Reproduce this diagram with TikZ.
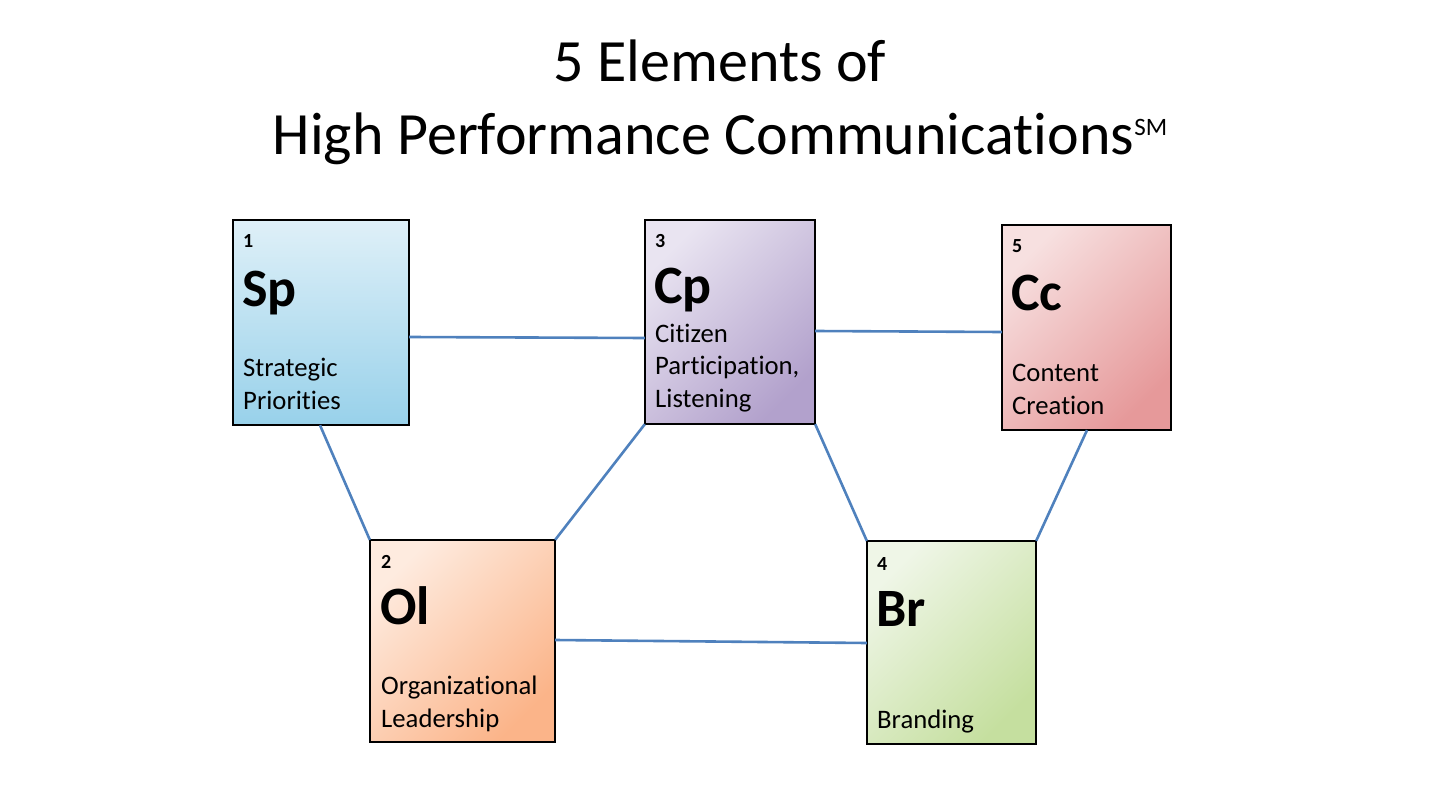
\documentclass[tikz,border=0pt]{standalone}
\usepackage{fontspec}
\setmainfont[Ligatures=NoCommon]{Carlito}
\definecolor{linkc}{HTML}{4F81BD}
\definecolor{spA}{HTML}{DFF0F8}\definecolor{spB}{HTML}{98D1EA}
\definecolor{cpA}{HTML}{E9E4F1}\definecolor{cpB}{HTML}{B2A1CC}
\definecolor{ccA}{HTML}{F7E0E0}\definecolor{ccB}{HTML}{E6999A}
\definecolor{olA}{HTML}{FEEBDF}\definecolor{olB}{HTML}{FBB489}
\definecolor{brA}{HTML}{EFF6E7}\definecolor{brB}{HTML}{C5DF9F}
\begin{document}
\begin{tikzpicture}[x=1pt,y=-1pt,
  elem/.style={draw=black,line width=2.8pt,inner sep=0pt,outer sep=0pt},
  link/.style={draw=linkc,line width=2.6pt},
  numtxt/.style={anchor=base west,inner sep=0pt,font=\fontsize{20}{20}\selectfont\bfseries},
  symtxt/.style={anchor=base west,inner sep=0pt,font=\fontsize{54}{54}\selectfont\bfseries},
  nametxt/.style={anchor=base west,inner sep=0pt,align=left,font=\fontsize{26.7}{32.5}\selectfont},
  titletxt/.style={inner sep=0pt,font=\fontsize{60}{60}\selectfont}]
\useasboundingbox (0,0) rectangle (1440,810);
% title
\node[titletxt,anchor=base] (t1) at (720,82) {5 Elements of};
\node[titletxt,anchor=base] (t2) at (720,155) {High Performance Communications\raisebox{19pt}{\fontsize{25}{25}\selectfont SM}};
% boxes
\path[elem,top color=spA,bottom color=spB] (233,220) rectangle (409,425);
\node[inner sep=0pt,minimum width=176pt,minimum height=205pt] (sp) at (321,322.5) {};
\path[elem,top color=cpA,bottom color=cpB,shading angle=45] (645,220) rectangle (815,424);
\node[inner sep=0pt,minimum width=170pt,minimum height=204pt] (cp) at (730,322) {};
\path[elem,top color=ccA,bottom color=ccB,shading angle=45] (1002,225) rectangle (1171,430);
\node[inner sep=0pt,minimum width=169pt,minimum height=205pt] (cc) at (1086.5,327.5) {};
\path[elem,top color=olA,bottom color=olB,shading angle=45] (370,540) rectangle (555,742);
\node[inner sep=0pt,minimum width=185pt,minimum height=202pt] (ol) at (462.5,641) {};
\path[elem,top color=brA,bottom color=brB,shading angle=45] (867,541) rectangle (1036,744);
\node[inner sep=0pt,minimum width=169pt,minimum height=203pt] (br) at (951.5,642.5) {};
% texts
\node[numtxt] (n1) at (243,248) {1};
\node[symtxt] (s1) at (242,306) {Sp};
\node[nametxt] (l1) at (243,409) {Strategic\\Priorities};
\node[numtxt] (n3) at (655,248) {3};
\node[symtxt] (s3) at (654,304) {Cp};
\node[nametxt] (l3) at (655,407) {Citizen\\Participation,\\Listening};
\node[numtxt] (n5) at (1012,253) {5};
\node[symtxt] (s5) at (1011,311) {Cc};
\node[nametxt] (l5) at (1012,414) {Content\\Creation};
\node[numtxt] (n2) at (381,568) {2};
\node[symtxt] (s2) at (380,624) {Ol};
\node[nametxt] (l2) at (381,727) {Organizational\\Leadership};
\node[numtxt] (n4) at (877,570) {4};
\node[symtxt] (s4) at (876,626) {Br};
\node[nametxt] (l4) at (877,728) {Branding};
% connectors
\draw[link] ([yshift=-14.5pt]sp.east) -- ([yshift=-16pt]cp.west);
\draw[link] ([yshift=-9pt]cp.east) -- ([yshift=-4.5pt]cc.west);
\draw[link] ([xshift=-1pt]sp.south) -- (ol.north west);
\draw[link] (cp.south west) -- (ol.north east);
\draw[link] (cp.south east) -- (br.north west);
\draw[link] ([xshift=0.5pt]cc.south) -- (br.north east);
\draw[link] ([yshift=1pt]ol.east) -- ([yshift=-0.5pt]br.west);
\end{tikzpicture}
\end{document}
